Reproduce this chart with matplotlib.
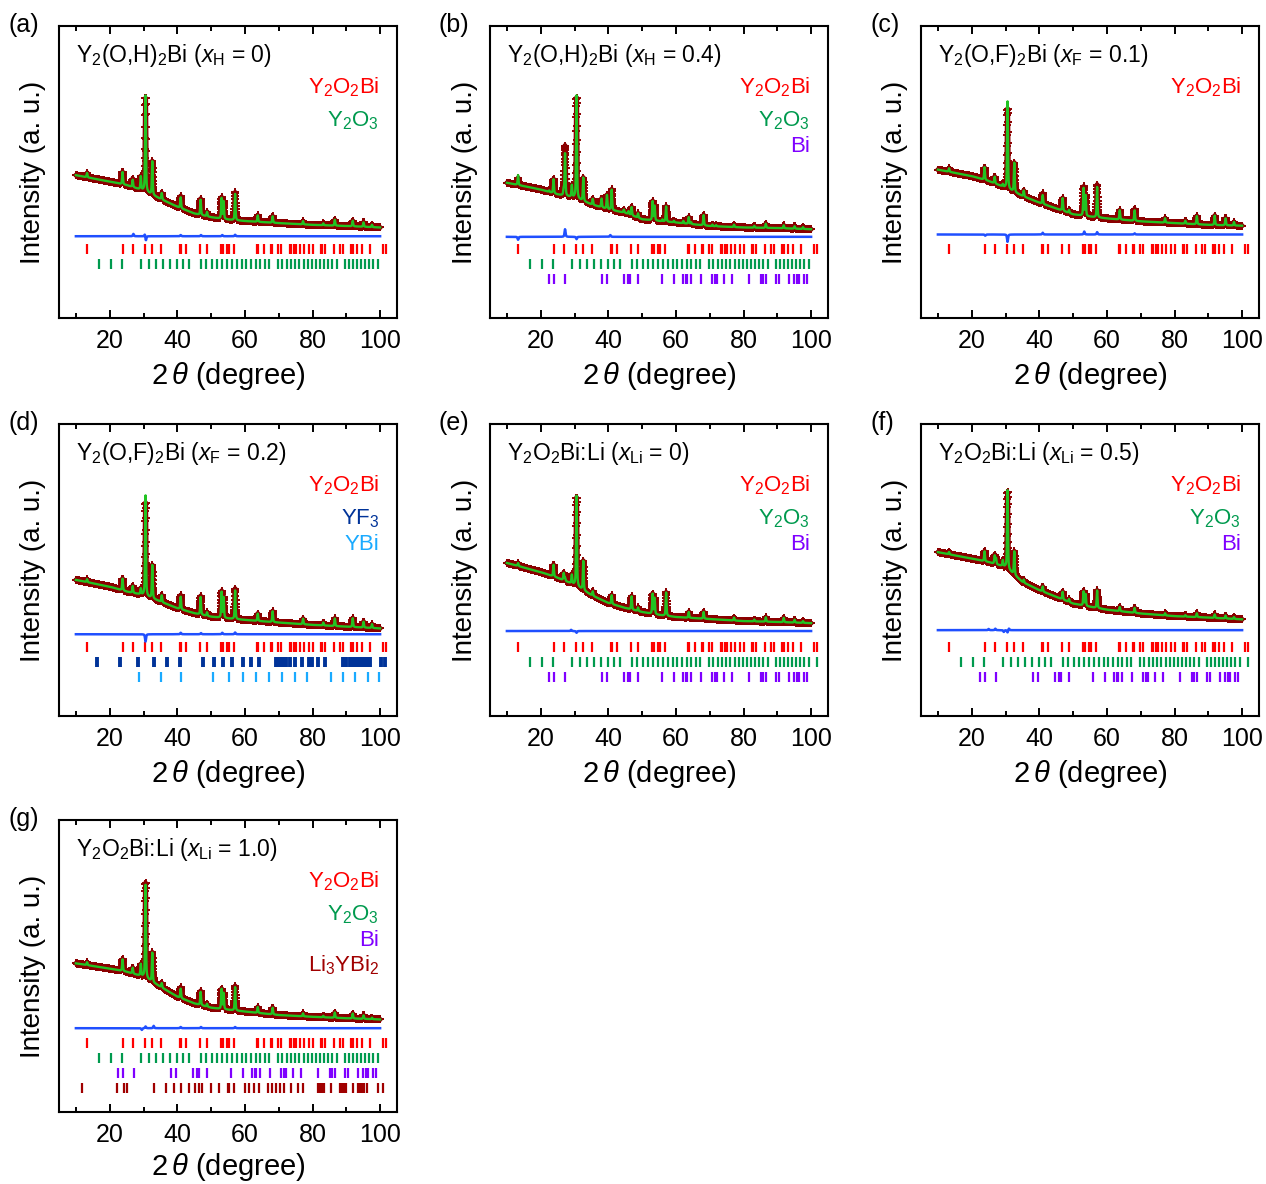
import numpy as np
import matplotlib
matplotlib.use('Agg')
import matplotlib.pyplot as plt

plt.rcParams['font.family'] = ['Liberation Sans', 'DejaVu Sans']
plt.rcParams['mathtext.fontset'] = 'custom'
plt.rcParams['mathtext.rm'] = 'Liberation Sans'
plt.rcParams['mathtext.it'] = 'Liberation Sans:italic'
plt.rcParams['mathtext.bf'] = 'Liberation Sans:bold'

# ---------------- Bragg reflection positions (2theta, deg) ----------------
Y2O2Bi_pos = [13.30, 23.80, 26.79, 30.54, 32.51, 35.27, 40.67, 41.07, 42.62, 46.64,
              48.72, 53.00, 53.64, 54.60, 55.21, 56.78, 63.57, 63.87, 65.55, 67.78,
              68.09, 69.74, 70.78, 73.25, 73.77, 74.58, 75.10, 76.44, 77.50, 79.08,
              80.07, 82.44, 82.70, 83.70, 86.28, 88.06, 89.10, 91.45, 91.95, 93.21,
              94.53, 97.06, 100.74, 101.74]
Y2O3_pos = [16.71, 20.50, 23.72, 29.15, 31.54, 33.79, 35.90, 37.92, 39.84, 41.70,
            43.48, 46.89, 48.52, 50.12, 51.67, 53.21, 54.70, 56.17, 57.61, 59.03,
            60.44, 61.81, 63.17, 64.52, 65.86, 67.18, 69.78, 71.06, 72.33, 73.59,
            74.84, 76.09, 77.34, 78.58, 79.80, 81.03, 82.26, 83.48, 84.70, 85.90,
            87.12, 89.54, 90.75, 91.96, 93.18, 94.39, 95.61, 96.82, 98.04, 99.25]
Y2O3_extra_pos = [101.7]
Bi_pos = [22.5, 23.8, 27.2, 38.0, 39.6, 44.6, 45.9, 46.5, 48.7, 56.0, 59.4, 62.2,
          62.9, 63.4, 64.5, 67.5, 70.8, 71.6, 72.3, 74.2, 76.5, 81.6, 85.3, 85.9,
          86.6, 89.5, 90.4, 93.5, 95.0, 95.9, 96.5, 97.9, 98.9]
YF3_pos = [16.3, 23.1, 28.5, 33.1, 37.1, 40.8, 47.7, 51.0, 53.6, 56.2, 59.3, 61.8,
           64.3, 69.2, 69.7, 70.2, 70.7, 71.2, 72.2, 73.2, 74.7, 76.9, 79.1, 79.8,
           81.6, 83.6, 89.0, 90.0, 91.0, 91.6, 92.2, 92.8, 93.4, 94.0, 94.6, 95.2,
           95.8, 96.4, 97.0, 100.4, 101.4]
YBi_pos = [28.6, 35.2, 41.0, 50.7, 55.2, 59.5, 63.4, 67.2, 71.1, 74.7, 78.3, 85.5,
           89.0, 92.6, 96.3, 99.8]
Li3YBi2_pos = [11.7, 22.1, 24.2, 25.2, 33.1, 36.8, 39.1, 41.0, 43.5, 45.3, 46.3,
               47.3, 50.0, 52.3, 55.0, 55.4, 56.9, 59.9, 61.3, 62.8, 64.3, 66.8,
               68.0, 69.2, 70.5, 71.7, 73.7, 75.7, 77.2, 81.6, 82.2, 82.8, 83.4,
               85.6, 88.0, 88.6, 89.3, 90.0, 92.0, 93.4, 94.0, 94.6, 95.3, 96.0,
               99.4, 100.9]

# ---------------- background anchors (fraction of axis height) ----------------
bg_x = [10, 20, 25, 30, 35, 40, 45, 50, 55, 60, 70, 80, 90, 100]
bg_a = [0.489, 0.467, 0.455, 0.436, 0.408, 0.381, 0.358, 0.345, 0.337, 0.332, 0.325, 0.319, 0.315, 0.310]
bg_b = [0.463, 0.440, 0.423, 0.412, 0.389, 0.372, 0.360, 0.338, 0.332, 0.327, 0.315, 0.310, 0.308, 0.304]
bg_c = [0.508, 0.486, 0.469, 0.446, 0.418, 0.395, 0.375, 0.355, 0.347, 0.341, 0.331, 0.325, 0.319, 0.316]
bg_d = [0.466, 0.443, 0.426, 0.414, 0.392, 0.369, 0.352, 0.340, 0.334, 0.329, 0.320, 0.312, 0.306, 0.300]
bg_e = [0.524, 0.493, 0.473, 0.449, 0.414, 0.387, 0.370, 0.356, 0.346, 0.339, 0.332, 0.325, 0.322, 0.318]
bg_f = [0.561, 0.539, 0.527, 0.510, 0.459, 0.431, 0.408, 0.385, 0.374, 0.364, 0.351, 0.342, 0.337, 0.331]
bg_g = [0.509, 0.491, 0.480, 0.463, 0.429, 0.395, 0.372, 0.357, 0.350, 0.344, 0.332, 0.326, 0.321, 0.317]

# ---------------- main peaks (positions common, heights per panel) ----------------
peak_pos = [13.3, 23.8, 26.8, 29.2, 30.6, 32.6, 35.4, 41.0, 46.9, 48.8, 53.1, 53.7,
            57.1, 63.8, 68.2, 77.2, 83.2, 86.6, 91.9, 95.1, 97.6]
h_a = [0.015, 0.042, 0.025, 0.045, 0.330, 0.115, 0.022, 0.037, 0.052, 0.015, 0.070, 0.060,
       0.090, 0.022, 0.022, 0.011, 0.006, 0.020, 0.019, 0.015, 0.008]
h_b = [0.034, 0.048, 0.020, 0.040, 0.354, 0.080, 0.020, 0.070, 0.028, 0.015, 0.065, 0.050,
       0.052, 0.023, 0.035, 0.008, 0.006, 0.014, 0.010, 0.008, 0.006]
h_c = [0.012, 0.043, 0.023, 0.008, 0.300, 0.100, 0.020, 0.030, 0.043, 0.010, 0.094, 0.070,
       0.104, 0.032, 0.036, 0.015, 0.010, 0.028, 0.032, 0.024, 0.012]
h_d = [0.010, 0.040, 0.023, 0.020, 0.345, 0.114, 0.023, 0.043, 0.060, 0.012, 0.088, 0.070,
       0.098, 0.025, 0.037, 0.019, 0.010, 0.026, 0.030, 0.020, 0.013]
h_e = [0.010, 0.040, 0.025, 0.030, 0.310, 0.100, 0.015, 0.030, 0.045, 0.012, 0.068, 0.055,
       0.080, 0.020, 0.023, 0.010, 0.006, 0.015, 0.015, 0.010, 0.006]
h_f = [0.008, 0.034, 0.028, 0.020, 0.270, 0.080, 0.010, 0.017, 0.026, 0.010, 0.048, 0.040,
       0.060, 0.014, 0.017, 0.007, 0.005, 0.013, 0.012, 0.010, 0.006]
h_g = [0.010, 0.040, 0.020, 0.040, 0.320, 0.100, 0.015, 0.032, 0.045, 0.010, 0.068, 0.055,
       0.080, 0.020, 0.023, 0.010, 0.005, 0.018, 0.017, 0.012, 0.005]

# extra (impurity) peaks
xb_pos = [22.5, 27.2, 38.0, 39.6, 44.6, 46.0, 56.0, 59.4, 62.2, 64.5, 70.8, 71.9]
xb_h = [0.005, 0.145, 0.030, 0.048, 0.010, 0.010, 0.006, 0.005, 0.008, 0.006, 0.005, 0.004]
xf_pos = [27.2]
xf_h = [0.020]
xe_pos = [27.2]
xe_h = [0.010]

# residual features of the difference curve
r_a_pos = [27.0, 30.4, 30.7, 41.0, 47.0, 53.3, 57.1]
r_a_h = [0.008, 0.008, -0.015, 0.004, 0.004, 0.004, 0.005]
r_b_pos = [13.3, 27.2, 30.6, 40.6]
r_b_h = [-0.010, 0.026, -0.008, 0.006]
r_c_pos = [24.0, 30.6, 41.0, 53.3, 57.1, 68.2]
r_c_h = [-0.004, -0.025, 0.006, 0.010, 0.008, 0.004]
r_d_pos = [30.6, 41.0, 47.0, 53.3, 57.1]
r_d_h = [-0.025, 0.005, 0.004, 0.005, 0.006]
r_e_pos = [29.0, 30.6]
r_e_h = [0.004, -0.006]
r_f_pos = [25.0, 27.0, 29.5, 30.6, 31.0]
r_f_h = [0.004, 0.005, -0.006, -0.008, 0.006]
r_g_pos = [29.5, 30.6, 33.0, 41.0, 47.0, 57.1]
r_g_h = [-0.006, 0.006, 0.008, 0.004, 0.004, 0.004]

diff_base = {'a': 0.280, 'b': 0.278, 'c': 0.286, 'd': 0.280, 'e': 0.291, 'f': 0.294, 'g': 0.287}

titles = {
    'a': r'Y$_2$(O,H)$_2$Bi ($x_{\mathrm{H}}$ = 0)',
    'b': r'Y$_2$(O,H)$_2$Bi ($x_{\mathrm{H}}$ = 0.4)',
    'c': r'Y$_2$(O,F)$_2$Bi ($x_{\mathrm{F}}$ = 0.1)',
    'd': r'Y$_2$(O,F)$_2$Bi ($x_{\mathrm{F}}$ = 0.2)',
    'e': r'Y$_2$O$_2$Bi:Li ($x_{\mathrm{Li}}$ = 0)',
    'f': r'Y$_2$O$_2$Bi:Li ($x_{\mathrm{Li}}$ = 0.5)',
    'g': r'Y$_2$O$_2$Bi:Li ($x_{\mathrm{Li}}$ = 1.0)',
}

C_RED = '#ff0000'
C_GREEN = '#009a4e'
C_PURPLE = '#7f00ff'
C_NAVY = '#003399'
C_SKY = '#1aaaff'
C_DRED = '#a00000'

PH = {
    'Y2O2Bi': (r'Y$_2$O$_2$Bi', C_RED, Y2O2Bi_pos, 1.6),
    'Y2O3': (r'Y$_2$O$_3$', C_GREEN, Y2O3_pos, 1.6),
    'Y2O3x': (r'Y$_2$O$_3$', C_GREEN, Y2O3_pos + Y2O3_extra_pos, 1.6),
    'Bi': ('Bi', C_PURPLE, Bi_pos, 1.6),
    'YF3': (r'YF$_3$', C_NAVY, YF3_pos, 2.8),
    'YBi': ('YBi', C_SKY, YBi_pos, 1.6),
    'Li3YBi2': (r'Li$_3$YBi$_2$', C_DRED, Li3YBi2_pos, 1.6),
}

panels = [
    ('a', 0, 0, bg_a, h_a, [], [], r_a_pos, r_a_h, ['Y2O2Bi', 'Y2O3']),
    ('b', 0, 1, bg_b, h_b, xb_pos, xb_h, r_b_pos, r_b_h, ['Y2O2Bi', 'Y2O3', 'Bi']),
    ('c', 0, 2, bg_c, h_c, [], [], r_c_pos, r_c_h, ['Y2O2Bi']),
    ('d', 1, 0, bg_d, h_d, [], [], r_d_pos, r_d_h, ['Y2O2Bi', 'YF3', 'YBi']),
    ('e', 1, 1, bg_e, h_e, xe_pos, xe_h, r_e_pos, r_e_h, ['Y2O2Bi', 'Y2O3x', 'Bi']),
    ('f', 1, 2, bg_f, h_f, xf_pos, xf_h, r_f_pos, r_f_h, ['Y2O2Bi', 'Y2O3x', 'Bi']),
    ('g', 2, 0, bg_g, h_g, [], [], r_g_pos, r_g_h, ['Y2O2Bi', 'Y2O3', 'Bi', 'Li3YBi2']),
]

label_y = [0.770, 0.655, 0.568, 0.480]
tick_rows = [0.237, 0.185, 0.133, 0.081]
tick_half = 0.017

W, H = 1266, 1184
fig = plt.figure(figsize=(W / 100, H / 100), dpi=100)

col_left = [59, 490, 921]
row_top = [26, 424, 820]
ax_w, ax_h = 338, 292


def profile(x, pos, hts, fwhm=0.3):
    y = np.zeros_like(x)
    g = fwhm / 2.3548
    for p, h in zip(pos, hts):
        d = x - p
        lor = 1.0 / (1.0 + (2 * d / fwhm) ** 2)
        gau = np.exp(-0.5 * (d / g) ** 2)
        y += h * (0.5 * lor + 0.5 * gau)
    return y


x = np.arange(10.0, 100.0001, 0.03)

for key, r, c, bg, hts, xp, xh, rp, rh, phases in panels:
    l = col_left[c] / W
    b = 1 - (row_top[r] + ax_h) / H
    ax = fig.add_axes([l, b, ax_w / W, ax_h / H])
    base = np.interp(x, bg_x, bg)
    calc = base + profile(x, peak_pos, hts) + profile(x, xp, xh)
    resid = profile(x, rp, rh, fwhm=0.35)
    obs = calc + resid
    ax.plot(x, obs, color='#8b0000', lw=3.6, zorder=2, solid_capstyle='round')
    ax.plot(x, obs, ls='none', marker='+', ms=6, mew=1.4, color='#8b0000', zorder=2)
    ax.plot(x, calc, color='#22c322', lw=1.7, zorder=3)
    ax.plot(x, diff_base[key] + resid, color='#1f4fff', lw=1.8, zorder=3)
    for i, ph in enumerate(phases):
        name, col, pos, lw = PH[ph]
        ax.vlines(pos, tick_rows[i] - tick_half, tick_rows[i] + tick_half, color=col, lw=lw)
        ax.text(0.947, label_y[i], name, color=col, fontsize=16, ha='right', va='baseline',
                transform=ax.transAxes)
    ax.text(0.05, 0.878, titles[key], fontsize=16.5, ha='left', va='baseline',
            transform=ax.transAxes)
    ax.set_xlim(5, 105)
    ax.set_ylim(0, 1)
    ax.set_yticks([])
    ax.set_xticks([20, 40, 60, 80, 100])
    ax.set_xticks([10, 30, 50, 70, 90], minor=True)
    ax.tick_params(axis='x', which='both', direction='in', top=True, width=1.4,
                   labelsize=18, pad=8)
    ax.tick_params(axis='x', which='major', length=6)
    ax.tick_params(axis='x', which='minor', length=3.5)
    for s in ax.spines.values():
        s.set_linewidth(1.5)
    ax.set_xlabel(r'2$\,\theta$ (degree)', fontsize=21, labelpad=(3 if r == 2 else 5))
    ax.set_ylabel('Intensity (a. u.)', fontsize=20, labelpad=9)
    fig.text((col_left[c] - 51) / W, 1 - (row_top[r] - 13) / H, '(%s)' % key,
             fontsize=18, ha='left', va='top')

fig.savefig('out.png', dpi=100)
